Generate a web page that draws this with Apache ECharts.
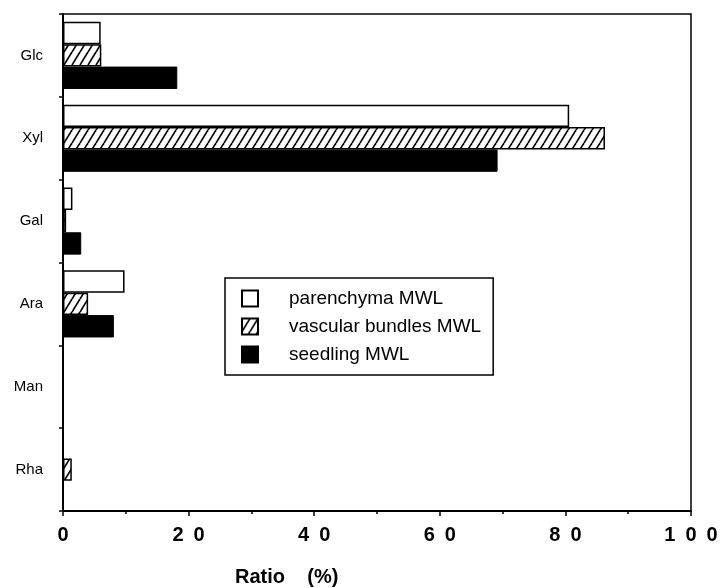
<!DOCTYPE html>
<html>
<head>
<meta charset="utf-8">
<script src="https://cdn.jsdelivr.net/npm/echarts@6/dist/echarts.min.js"></script>
<style>
html,body{margin:0;padding:0;background:#fff;}
#chart{width:722px;height:588px;}
</style>
</head>
<body>
<div id="chart"></div>
<script>
const categories = ['Glc', 'Xyl', 'Gal', 'Ara', 'Man', 'Rha'];
const parenchyma = [6.0, 80.6, 1.5, 9.8, 0, 0];
const vascular = [6.1, 86.3, 0.5, 4.0, 0, 1.4];
const seedling = [18.2, 69.2, 2.9, 8.1, 0, 0];
const seriesNames = ['parenchyma MWL', 'vascular bundles MWL', 'seedling MWL'];
const xTicks = [0, 20, 40, 60, 80, 100];

function hatch() {
  const w = 8, h = 13;
  const c = document.createElement('canvas');
  c.width = w; c.height = h;
  const g = c.getContext('2d');
  g.fillStyle = '#fff';
  g.fillRect(0, 0, w, h);
  g.strokeStyle = '#000';
  g.lineWidth = 1.7;
  for (let k = -1; k <= 1; k++) {
    g.beginPath();
    g.moveTo(k * w, h);
    g.lineTo(k * w + w, 0);
    g.stroke();
  }
  return c;
}

const font = '"Liberation Sans", Arial, Helvetica, sans-serif';
const chart = echarts.init(document.getElementById('chart'), null, {renderer: 'canvas'});
const option = {
  backgroundColor: '#fff',
  animation: false,
  title: {
    text: 'Ratio    (%)',
    left: 235, top: 567, padding: 0,
    textStyle: {fontFamily: font, fontWeight: 'bold', fontSize: 20, color: '#000'}
  },
  legend: {
    orient: 'vertical',
    left: 225, top: 278,
    padding: [11, 12, 11, 16],
    itemWidth: 16, itemHeight: 16, itemGap: 9,
    icon: 'rect',
    backgroundColor: '#fff',
    borderColor: '#000', borderWidth: 1.5,
    textStyle: {fontFamily: font, fontSize: 19, color: '#000', padding: [0, 0, 0, 26]},
    data: seriesNames
  },
  grid: {
    left: 63, right: 31, top: 14, bottom: 77,
    show: true, borderColor: '#000', borderWidth: 1.5, backgroundColor: 'transparent'
  },
  xAxis: {
    type: 'value', min: 0, max: 100, interval: 20,
    axisLine: {show: true, lineStyle: {color: '#000', width: 2}},
    axisTick: {show: true, length: 5, inside: false, lineStyle: {color: '#000', width: 1.5}},
    minorTick: {show: true, splitNumber: 2, length: 3, lineStyle: {color: '#000', width: 1.5}},
    splitLine: {show: false},
    axisLabel: {
      margin: 14, color: '#000', fontFamily: font, fontWeight: 'bold', fontSize: 20,
      formatter: v => String(v).split('').join('\u2002')
    }
  },
  yAxis: {
    type: 'category', data: categories, inverse: true,
    axisLine: {show: true, lineStyle: {color: '#000', width: 2}},
    axisTick: {show: true, length: 4, lineStyle: {color: '#000', width: 1.5}},
    axisLabel: {margin: 20, color: '#000', fontFamily: font, fontSize: 15}
  },
  series: [
    {
      name: seriesNames[0], type: 'bar', data: parenchyma,
      barGap: '0%', barCategoryGap: '19%',
      itemStyle: {color: '#fff', borderColor: '#000', borderWidth: 1.5}
    },
    {
      name: seriesNames[1], type: 'bar', data: vascular,
      barGap: '0%', barCategoryGap: '19%',
      itemStyle: {color: {image: hatch(), repeat: 'repeat'}, borderColor: '#000', borderWidth: 1.5}
    },
    {
      name: seriesNames[2], type: 'bar', data: seedling,
      barGap: '0%', barCategoryGap: '19%',
      itemStyle: {color: '#000', borderColor: '#000', borderWidth: 1}
    }
  ]
};
chart.setOption(option);
</script>
</body>
</html>
